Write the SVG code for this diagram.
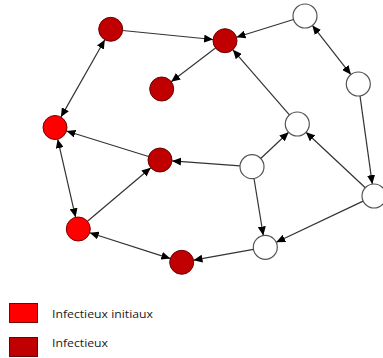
<svg xmlns="http://www.w3.org/2000/svg" width="383" height="358" viewBox="0 0 383 358">
<style>
.red{fill:#ff0000;stroke:#7a0000;stroke-width:1}
.dark{fill:#c00000;stroke:#6a0000;stroke-width:1}
.white{fill:#ffffff;stroke:#555555;stroke-width:1.2}
.e{stroke:#333333;stroke-width:1.2;fill:none}
.one{marker-end:url(#ah)}
.two{marker-start:url(#ah);marker-end:url(#ah)}
.lbl{font-family:"Open Sans","DejaVu Sans",sans-serif;font-size:11px;fill:#1a1a1a}
</style>
<defs>
<marker id="ah" markerUnits="userSpaceOnUse" markerWidth="9" markerHeight="8" viewBox="0 0 9 8" refX="9" refY="4" orient="auto-start-reverse">
<path d="M0,0 L9,4 L0,8 z" fill="#000"/>
</marker>
</defs>
<rect width="383" height="358" fill="#fff"/>
<g id="connectors">
<line class="e one" x1="122.6" y1="30.5" x2="213.1" y2="39.5"/>
<line class="e two" x1="104.8" y1="39.7" x2="60.9" y2="117.1"/>
<line class="e one" x1="215.5" y1="48.0" x2="171.2" y2="81.7"/>
<line class="e one" x1="293.5" y1="19.5" x2="236.5" y2="37.2"/>
<line class="e one" x1="289.4" y1="114.9" x2="232.9" y2="49.8"/>
<line class="e two" x1="312.4" y1="25.4" x2="350.9" y2="74.6"/>
<line class="e one" x1="360" y1="95.9" x2="372.3" y2="184.1"/>
<line class="e one" x1="365.3" y1="187.8" x2="306.0" y2="132.2"/>
<line class="e one" x1="260.7" y1="158.5" x2="288.6" y2="132.2"/>
<line class="e one" x1="240.0" y1="165.8" x2="172.0" y2="160.9"/>
<line class="e one" x1="254.0" y1="178.5" x2="263.3" y2="235.5"/>
<line class="e one" x1="363.1" y1="201.1" x2="276.2" y2="242.2"/>
<line class="e one" x1="253.5" y1="249.4" x2="193.5" y2="260.2"/>
<line class="e one" x1="148.5" y1="156.5" x2="66.5" y2="131.0"/>
<line class="e two" x1="57.7" y1="139.2" x2="75.6" y2="217.3"/>
<line class="e one" x1="87.5" y1="221.3" x2="150.8" y2="167.7"/>
<line class="e two" x1="89.7" y1="232.7" x2="170.3" y2="258.6"/>
</g>
<g id="nA"><circle class="dark" cx="110.7" cy="29.3" r="12"/></g>
<g id="nB"><circle class="dark" cx="225" cy="40.7" r="12"/></g>
<g id="nC"><circle class="dark" cx="161.7" cy="89" r="12"/></g>
<g id="nD"><circle class="red" cx="55" cy="127.5" r="12"/></g>
<g id="nE"><circle class="dark" cx="160" cy="160" r="12"/></g>
<g id="nF"><circle class="red" cx="78.3" cy="229" r="12"/></g>
<g id="nG"><circle class="dark" cx="181.7" cy="262.3" r="12"/></g>
<g id="nH"><circle class="white" cx="305" cy="16" r="12"/></g>
<g id="nI"><circle class="white" cx="358.3" cy="84" r="12"/></g>
<g id="nJ"><circle class="white" cx="297.3" cy="124" r="12"/></g>
<g id="nK"><circle class="white" cx="252" cy="166.7" r="12"/></g>
<g id="nL"><circle class="white" cx="374" cy="196" r="12"/></g>
<g id="nM"><circle class="white" cx="265.3" cy="247.3" r="12"/></g>
<g id="legend">
<rect class="red" x="9.5" y="303.5" width="28" height="19"/>
<text class="lbl" x="52" y="318" textLength="101" lengthAdjust="spacingAndGlyphs">Infectieux initiaux</text>
<rect class="dark" x="9.5" y="337.5" width="28" height="19"/>
<text class="lbl" x="52" y="347" textLength="56" lengthAdjust="spacingAndGlyphs">Infectieux</text>
</g>
</svg>
